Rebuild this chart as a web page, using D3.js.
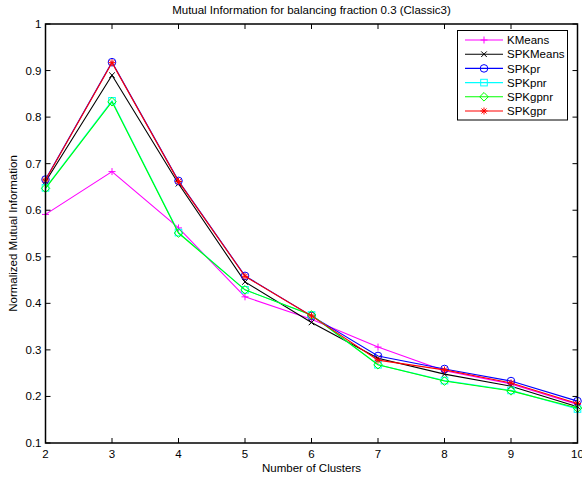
<!DOCTYPE html>
<html lang="en">
<head>
    <meta charset="UTF-8">
    <script src="https://d3js.org/d3.v7.min.js"></script>
    <title>Mutual Information</title>
    <style>
        body { margin: 0px; background: #fff; }
        svg text { font-family: "Liberation Sans", Arial, sans-serif; fill: #000; }
    </style>
</head>
<body>
    <svg id="chart" width="582" height="480"></svg>
    <script>
        const clusters = [2, 3, 4, 5, 6, 7, 8, 9, 10];
        const yTicks = [0.1, 0.2, 0.3, 0.4, 0.5, 0.6, 0.7, 0.8, 0.9, 1];
        const seriesNames = ['KMeans', 'SPKMeans', 'SPKpr', 'SPKpnr', 'SPKgpnr', 'SPKgpr'];
        const seriesColors = ['#ff00ff', '#000000', '#0000ff', '#00ffff', '#00ff00', '#ff0000'];
        const seriesMarkers = ['plus', 'cross', 'circle', 'square', 'diamond', 'star'];
        const kmeans   = [0.591, 0.683, 0.562, 0.414, 0.366, 0.306, 0.255, 0.227, 0.183];
        const spkmeans = [0.661, 0.890, 0.657, 0.446, 0.359, 0.282, 0.248, 0.222, 0.178];
        const spkpr    = [0.666, 0.918, 0.663, 0.459, 0.373, 0.287, 0.259, 0.233, 0.190];
        const spkpnr   = [0.648, 0.835, 0.552, 0.429, 0.375, 0.268, 0.234, 0.213, 0.173];
        const spkgpnr  = [0.647, 0.833, 0.551, 0.429, 0.375, 0.268, 0.233, 0.212, 0.175];
        const spkgpr   = [0.665, 0.917, 0.662, 0.458, 0.373, 0.278, 0.257, 0.229, 0.185];
        const seriesValues = [kmeans, spkmeans, spkpr, spkpnr, spkgpnr, spkgpr];

        const svg = d3.select('#chart');
        const m = { left: 45.5, right: 577.5, top: 24, bottom: 443 };
        const x = d3.scaleLinear([2, 10], [m.left, m.right]);
        const y = d3.scaleLinear([0.1, 1], [m.bottom, m.top]);

        // marker drawing
        function drawMarker (g, type, cx, cy, color) {
            let s = 3.5;
            if (type == 'plus') {
                g.append('path').attr('d', `M${cx - s} ${cy}L${cx + s} ${cy}M${cx} ${cy - s}L${cx} ${cy + s}`)
                    .attr('stroke', color).attr('fill', 'none');
            } else if (type == 'cross') {
                s = 2.8;
                g.append('path').attr('d', `M${cx - s} ${cy - s}L${cx + s} ${cy + s}M${cx - s} ${cy + s}L${cx + s} ${cy - s}`)
                    .attr('stroke', color).attr('fill', 'none');
            } else if (type == 'circle') {
                g.append('circle').attr('cx', cx).attr('cy', cy).attr('r', 3.8)
                    .attr('stroke', color).attr('fill', 'none');
            } else if (type == 'square') {
                g.append('rect').attr('x', cx - 3.3).attr('y', cy - 3.3).attr('width', 6.6).attr('height', 6.6)
                    .attr('stroke', color).attr('fill', 'none');
            } else if (type == 'diamond') {
                s = 4.3;
                g.append('path').attr('d', `M${cx} ${cy - s}L${cx + s} ${cy}L${cx} ${cy + s}L${cx - s} ${cy}Z`)
                    .attr('stroke', color).attr('fill', 'none');
            } else if (type == 'star') {
                const d = 2.5;
                g.append('path').attr('d', `M${cx - s} ${cy}L${cx + s} ${cy}M${cx} ${cy - s}L${cx} ${cy + s}M${cx - d} ${cy - d}L${cx + d} ${cy + d}M${cx - d} ${cy + d}L${cx + d} ${cy - d}`)
                    .attr('stroke', color).attr('fill', 'none');
            }
        }

        // title and labels
        svg.append('text').attr('x', 311.5).attr('y', 14).attr('text-anchor', 'middle')
            .attr('font-size', 11.5).text('Mutual Information for balancing fraction 0.3 (Classic3)');
        svg.append('text').attr('x', 311.5).attr('y', 472).attr('text-anchor', 'middle')
            .attr('font-size', 11.5).text('Number of Clusters');
        svg.append('text').attr('transform', 'translate(17, 233.5) rotate(-90)').attr('text-anchor', 'middle')
            .attr('font-size', 11.5).text('Normalized Mutual Information');

        // series
        const lineGen = d3.line().x((d, i) => x(clusters[i])).y(d => y(d));
        for (let k = 0; k < seriesNames.length; k++) {
            const g = svg.append('g');
            g.append('path').attr('d', lineGen(seriesValues[k]))
                .attr('stroke', seriesColors[k]).attr('stroke-width', 1.1).attr('fill', 'none');
            seriesValues[k].forEach((v, i) => drawMarker(g, seriesMarkers[k], x(clusters[i]), y(v), seriesColors[k]));
        }

        // axes box
        const axisG = svg.append('g');
        axisG.append('rect').attr('x', m.left).attr('y', m.top)
            .attr('width', m.right - m.left).attr('height', m.bottom - m.top)
            .attr('fill', 'none').attr('stroke', '#000').attr('stroke-width', 1.5);
        const tk = 5;
        clusters.forEach(c => {
            axisG.append('path').attr('d', `M${x(c)} ${m.bottom}L${x(c)} ${m.bottom - tk}M${x(c)} ${m.top}L${x(c)} ${m.top + tk}`)
                .attr('stroke', '#000');
            axisG.append('text').attr('x', x(c)).attr('y', m.bottom + 15).attr('text-anchor', 'middle')
                .attr('font-size', 11.5).text(c);
        });
        yTicks.forEach(t => {
            axisG.append('path').attr('d', `M${m.left} ${y(t)}L${m.left + tk} ${y(t)}M${m.right} ${y(t)}L${m.right - tk} ${y(t)}`)
                .attr('stroke', '#000');
            axisG.append('text').attr('x', m.left - 4).attr('y', y(t) + 4).attr('text-anchor', 'end')
                .attr('font-size', 11.5).text(d3.format('~g')(t));
        });

        // legend
        const leg = svg.append('g');
        leg.append('rect').attr('x', 457.5).attr('y', 30.5).attr('width', 110).attr('height', 89.5)
            .attr('fill', '#fff').attr('stroke', '#000').attr('stroke-width', 1);
        seriesNames.forEach((name, k) => {
            const ly = 40 + k * 14.2;
            leg.append('path').attr('d', `M465 ${ly}L503 ${ly}`).attr('stroke', seriesColors[k]).attr('stroke-width', 1.1);
            drawMarker(leg, seriesMarkers[k], 484, ly, seriesColors[k]);
            leg.append('text').attr('x', 507).attr('y', ly + 4.2).attr('font-size', 11.5).text(name);
        });
    </script>
</body>
</html>
